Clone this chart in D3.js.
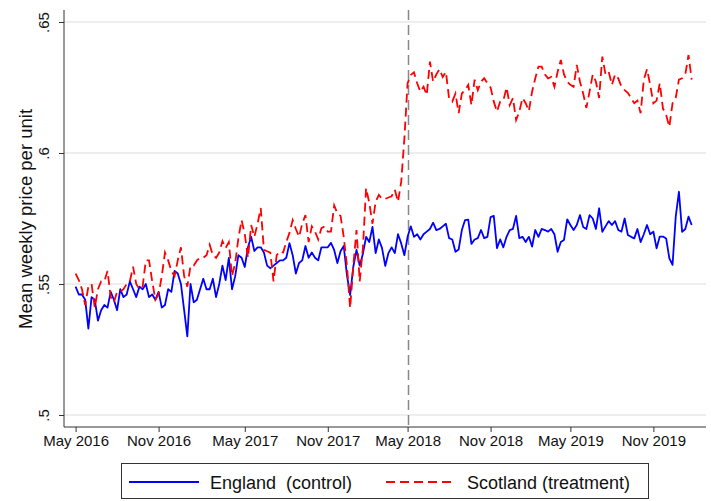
<!DOCTYPE html>
<html>
<head>
<meta charset="utf-8">
<script src="https://cdn.jsdelivr.net/npm/d3@7"></script>
<style>
body { margin: 0; background: #fff; }
svg { font-family: "Liberation Sans", Arial, sans-serif; }
</style>
</head>
<body>
<div id="chart-area"></div>
<script>
/*
* Mean weekly price per unit, England vs Scotland
*/

// weekly observations, first week starts May 2016
const startWeek = new Date(2016, 4, 1)

const england = [
	0.549,0.546,0.546,0.544,0.533,0.545,0.544,0.536,0.540,0.542,
	0.541,0.547,0.544,0.540,0.548,0.545,0.546,0.551,0.548,0.545,
	0.549,0.548,0.550,0.545,0.546,0.544,0.547,0.541,0.542,0.548,
	0.547,0.555,0.554,0.550,0.540,0.530,0.550,0.543,0.544,0.548,
	0.552,0.548,0.548,0.552,0.545,0.550,0.557,0.5515,
	0.560,0.548,0.553,0.561,0.560,0.5565,0.564,0.568,0.5626,0.564,
	0.564,0.562,0.557,0.556,0.557,0.558,0.559,0.559,0.560,0.5656,
	0.561,0.554,0.558,0.559,0.5645,0.560,0.562,0.560,0.559,
	0.564,0.564,0.564,0.5657,0.563,0.558,0.5625,0.5645,0.5534,0.5458,
	0.5566,0.563,0.557,0.5615,0.568,0.566,0.5718,0.5618,0.567,0.5637,
	0.5569,0.5618,0.564,0.5618,0.569,0.5655,0.561,0.568,0.572,0.568,
	0.569,
	0.567,0.569,0.570,0.571,0.5734,0.5706,0.571,0.572,0.573,0.5675,
	0.567,0.5623,0.5632,0.5706,0.5744,0.5746,0.5653,0.567,0.5675,0.5706,
	0.5675,0.568,0.5755,0.576,0.5637,0.567,0.564,0.568,0.5706,0.571,
	0.576,0.5675,0.568,0.566,0.568,0.5643,0.5706,0.568,0.571,0.5706,
	0.570,0.571,0.569,0.5623,0.566,0.5668,0.5747,0.5725,0.5706,0.5725,
	0.5763,0.5718,0.571,0.5763,0.575,0.571,0.5789,0.5699,0.572,0.574,
	0.5725,0.574,0.5706,0.570,0.575,0.5687,0.568,0.5674,0.571,0.566,
	0.569,0.5725,0.569,0.570,0.5636,0.5681,0.5681,0.5674,0.5598,0.5573,
	0.5757,0.5852,0.5699,0.571,0.5757,0.5725
]

const scotland = [
	0.554,0.5515,0.548,0.542,0.549,0.550,0.541,0.548,0.551,0.551,
	0.555,0.545,0.543,0.547,0.547,0.548,0.550,0.551,0.5566,0.550,
	0.548,0.549,0.559,0.559,0.551,0.544,0.546,0.553,0.562,0.559,
	0.555,0.553,0.559,0.564,0.553,0.549,0.557,0.557,0.559,
	0.560,0.560,0.561,0.565,0.561,0.560,0.562,0.5664,0.5637,0.566,
	0.553,0.558,0.5675,0.5744,0.569,0.560,0.5725,0.568,0.573,0.579,
	0.563,0.5625,0.562,0.551,0.561,0.5625,0.562,0.566,0.5695,0.5744,
	0.571,0.568,0.573,0.5763,0.566,0.572,0.570,0.567,
	0.5713,0.572,0.570,0.570,0.580,0.577,0.576,0.568,0.557,0.5408,
	0.557,0.5706,0.551,0.5637,0.5866,0.581,0.573,0.5814,0.584,0.5825,
	0.5825,0.583,0.5835,0.586,0.5814,0.589,0.6057,0.6266,0.6298,0.6308,
	0.6266,0.6234,0.6253,0.6221,0.6349,0.6272,0.630,0.632,0.629,0.631,
	0.6208,0.6196,0.6227,0.6152,0.6227,0.624,0.626,0.6183,0.628,0.624,
	0.6272,0.6285,0.6266,0.625,0.6196,0.6158,0.6196,0.620,0.625,0.6183,
	0.621,0.6126,0.6158,
	0.621,0.619,0.616,0.6234,0.6285,0.633,0.633,0.630,0.6285,0.629,
	0.6253,0.631,0.6355,0.630,0.6272,0.626,0.6253,0.6336,0.6272,0.6227,
	0.6172,0.6234,0.630,0.6272,0.621,0.6368,0.630,0.631,
	0.626,0.630,0.6285,0.6253,0.624,0.623,0.621,0.619,0.620,0.6152,
	0.628,0.632,0.626,0.619,0.620,0.6266,0.617,0.6145,0.610,0.619,
	0.621,0.628,0.6285,0.630,0.6374,0.628
]

const yTicks = [0.5, 0.55, 0.6, 0.65]
const yTickLabels = [".5", ".55", ".6", ".65"]
// axis ticks sit on these week numbers (counted from the first week)
const xTickWeeks = [0, 26, 53, 79, 104, 130, 155, 181]
const xTickLabels = ["May 2016", "Nov 2016", "May 2017", "Nov 2017",
	"May 2018", "Nov 2018", "May 2019", "Nov 2019"]
const policyDate = new Date(2018, 4, 1)
const seriesNames = ["England  (control)", "Scotland (treatment)"]

const width = 711, height = 501
const plot = { left: 64, right: 706, top: 10, bottom: 427 }

const svg = d3.select("#chart-area")
	.append("svg")
		.attr("width", width)
		.attr("height", height)

svg.append("rect")
	.attr("width", width)
	.attr("height", height)
	.attr("fill", "#fff")

const weekDate = w => d3.timeDay.offset(startWeek, 7 * w)

// scales
const x = d3.scaleTime()
	.domain([new Date(2016, 4, 1), new Date(2018, 4, 1)])
	.range([75.6, 408.5])

const y = d3.scaleLinear()
	.domain([0.5, 0.65])
	.range([415, 22])

const toRows = vals => vals.map((v, i) => ({ date: weekDate(i), value: v }))
const englandRows = toRows(england)
const scotlandRows = toRows(scotland)

// gridlines
svg.append("g")
	.selectAll("line")
	.data(yTicks)
	.enter().append("line")
		.attr("x1", plot.left)
		.attr("x2", plot.right)
		.attr("y1", d => y(d))
		.attr("y2", d => y(d))
		.attr("stroke", "#e8e8e8")
		.attr("stroke-width", 1.5)

// y axis
const yAxisCall = d3.axisLeft(y)
	.tickValues(yTicks)
	.tickFormat((d, i) => yTickLabels[i])
	.tickSize(5)
	.tickSizeOuter(0)

const yAxisGroup = svg.append("g")
	.attr("transform", `translate(${plot.left}, 0)`)
	.call(yAxisCall)

yAxisGroup.select(".domain").remove()
yAxisGroup.selectAll(".tick line").attr("stroke", "#333")
yAxisGroup.selectAll(".tick text")
	.attr("transform", "rotate(-90)")
	.attr("x", 0)
	.attr("y", -15.5)
	.attr("dy", 0)
	.attr("text-anchor", "middle")
	.attr("font-size", "15px")
	.attr("fill", "#111")

// x axis
const xAxisCall = d3.axisBottom(x)
	.tickValues(xTickWeeks.map(weekDate))
	.tickFormat((d, i) => xTickLabels[i])
	.tickSize(5)
	.tickSizeOuter(0)

const xAxisGroup = svg.append("g")
	.attr("transform", `translate(0, ${plot.bottom})`)
	.call(xAxisCall)

xAxisGroup.select(".domain").remove()
xAxisGroup.selectAll(".tick line").attr("stroke", "#333")
xAxisGroup.selectAll(".tick text")
	.attr("y", 8)
	.attr("dy", "0.71em")
	.attr("font-size", "15px")
	.attr("fill", "#111")

// axis lines
svg.append("line")
	.attr("x1", plot.left).attr("x2", plot.left)
	.attr("y1", plot.top).attr("y2", plot.bottom)
	.attr("stroke", "#333")
svg.append("line")
	.attr("x1", plot.left).attr("x2", plot.right)
	.attr("y1", plot.bottom).attr("y2", plot.bottom)
	.attr("stroke", "#333")

// y title
svg.append("text")
	.attr("transform", `translate(31.5, 219) rotate(-90)`)
	.attr("text-anchor", "middle")
	.attr("font-size", "18.5px")
	.attr("fill", "#111")
	.text("Mean weekly price per unit")

// policy line
svg.append("line")
	.attr("x1", x(policyDate)).attr("x2", x(policyDate))
	.attr("y1", plot.top).attr("y2", plot.bottom)
	.attr("stroke", "#888")
	.attr("stroke-width", 1.5)
	.attr("stroke-dasharray", "10,5")

// lines
const line = d3.line()
	.x(d => x(d.date))
	.y(d => y(d.value))

svg.append("path")
	.datum(englandRows)
	.attr("d", line)
	.attr("fill", "none")
	.attr("stroke", "#0000ff")
	.attr("stroke-width", 1.8)
	.attr("stroke-linejoin", "round")

svg.append("path")
	.datum(scotlandRows)
	.attr("d", line)
	.attr("fill", "none")
	.attr("stroke", "#ff0000")
	.attr("stroke-width", 1.8)
	.attr("stroke-dasharray", "9,5")

// legend
const legend = svg.append("g")
legend.append("rect")
	.attr("x", 121.5).attr("y", 463.5)
	.attr("width", 527).attr("height", 35)
	.attr("fill", "#fff")
	.attr("stroke", "#333")

const legendItems = [
	{ name: seriesNames[0], color: "#0000ff", dash: null, x0: 129 },
	{ name: seriesNames[1], color: "#ff0000", dash: "9,5", x0: 386 }
]

legendItems.forEach(item => {
	legend.append("line")
		.attr("x1", item.x0).attr("x2", item.x0 + 70)
		.attr("y1", 482).attr("y2", 482)
		.attr("stroke", item.color)
		.attr("stroke-width", 1.8)
		.attr("stroke-dasharray", item.dash)
	legend.append("text")
		.attr("x", item.x0 + 81)
		.attr("y", 488.5)
		.attr("font-size", "18px")
		.attr("fill", "#111")
		.attr("xml:space", "preserve")
		.style("white-space", "pre")
		.text(item.name)
})
</script>
</body>
</html>
